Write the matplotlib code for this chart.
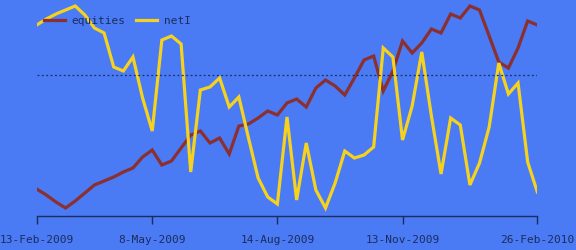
import numpy as np
import matplotlib
matplotlib.use("Agg")
import matplotlib.pyplot as plt

plt.rcParams["font.family"] = ["DejaVu Sans Mono"]

# weekly observations, 53 points (two weeks missing)
tick_idx = [0, 12, 25, 38, 52]
tick_labels = ["13-Feb-2009", "8-May-2009", "14-Aug-2009", "13-Nov-2009", "26-Feb-2010"]

equities = [27, 21, 14, 8, 15, 23, 31, 35, 39, 44, 48, 59, 66, 51, 55, 68, 81, 85,
            73, 78, 62, 90, 92, 98, 105, 101, 113, 117, 109, 128, 136, 130, 121, 138,
            156, 160, 125, 145, 175, 163, 173, 187, 183, 202, 198, 210, 206, 180, 154,
            148, 168, 195, 191]
netI = [191, 197, 202, 206, 210, 201, 188, 183, 149, 145, 159, 118, 85, 176, 180, 172,
        44, 126, 129, 138, 109, 119, 78, 38, 19, 12, 99, 16, 73, 26, 8, 33, 65, 58, 61,
        69, 168, 159, 76, 110, 164, 100, 42, 98, 91, 31, 53, 89, 153, 122, 133, 54, 24]
ref_level = 141

bg = "#4a7af4"
ink = "#1c2c5c"

fig = plt.figure(figsize=(5.76, 2.5), dpi=100, facecolor=bg)
ax = fig.add_axes([36.7 / 576, 34 / 250, 500.6 / 576, 216 / 250], facecolor=bg)

x = np.arange(len(equities))
ax.plot(x, equities, color="#8c2f2f", lw=2.3, label="equities", solid_joinstyle="miter")
ax.plot(x, netI, color="#f5d21e", lw=2.3, label="netI", solid_joinstyle="miter")
ax.axhline(ref_level, color=ink, lw=0.9, ls=(0, (1.5, 2)))

ax.set_xlim(0, len(x) - 1)
ax.set_ylim(0, 216)
for s in ["top", "left", "right"]:
    ax.spines[s].set_visible(False)
ax.spines["bottom"].set_color(ink)
ax.spines["bottom"].set_linewidth(1)
ax.set_yticks([])
ax.set_xticks(tick_idx)
ax.set_xticklabels(tick_labels)
ax.tick_params(axis="x", direction="out", length=6, width=1, color=ink,
               labelcolor=ink, labelsize=8, pad=8)

leg = fig.legend(loc="center left", bbox_to_anchor=(44 / 576, 1 - 21 / 250), ncol=2,
                 frameon=False, fontsize=8, handlelength=1.9, handletextpad=0.6,
                 columnspacing=0.9, borderpad=0, borderaxespad=0)
for t in leg.get_texts():
    t.set_color(ink)

fig.savefig("out.png", dpi=100, facecolor=bg)
